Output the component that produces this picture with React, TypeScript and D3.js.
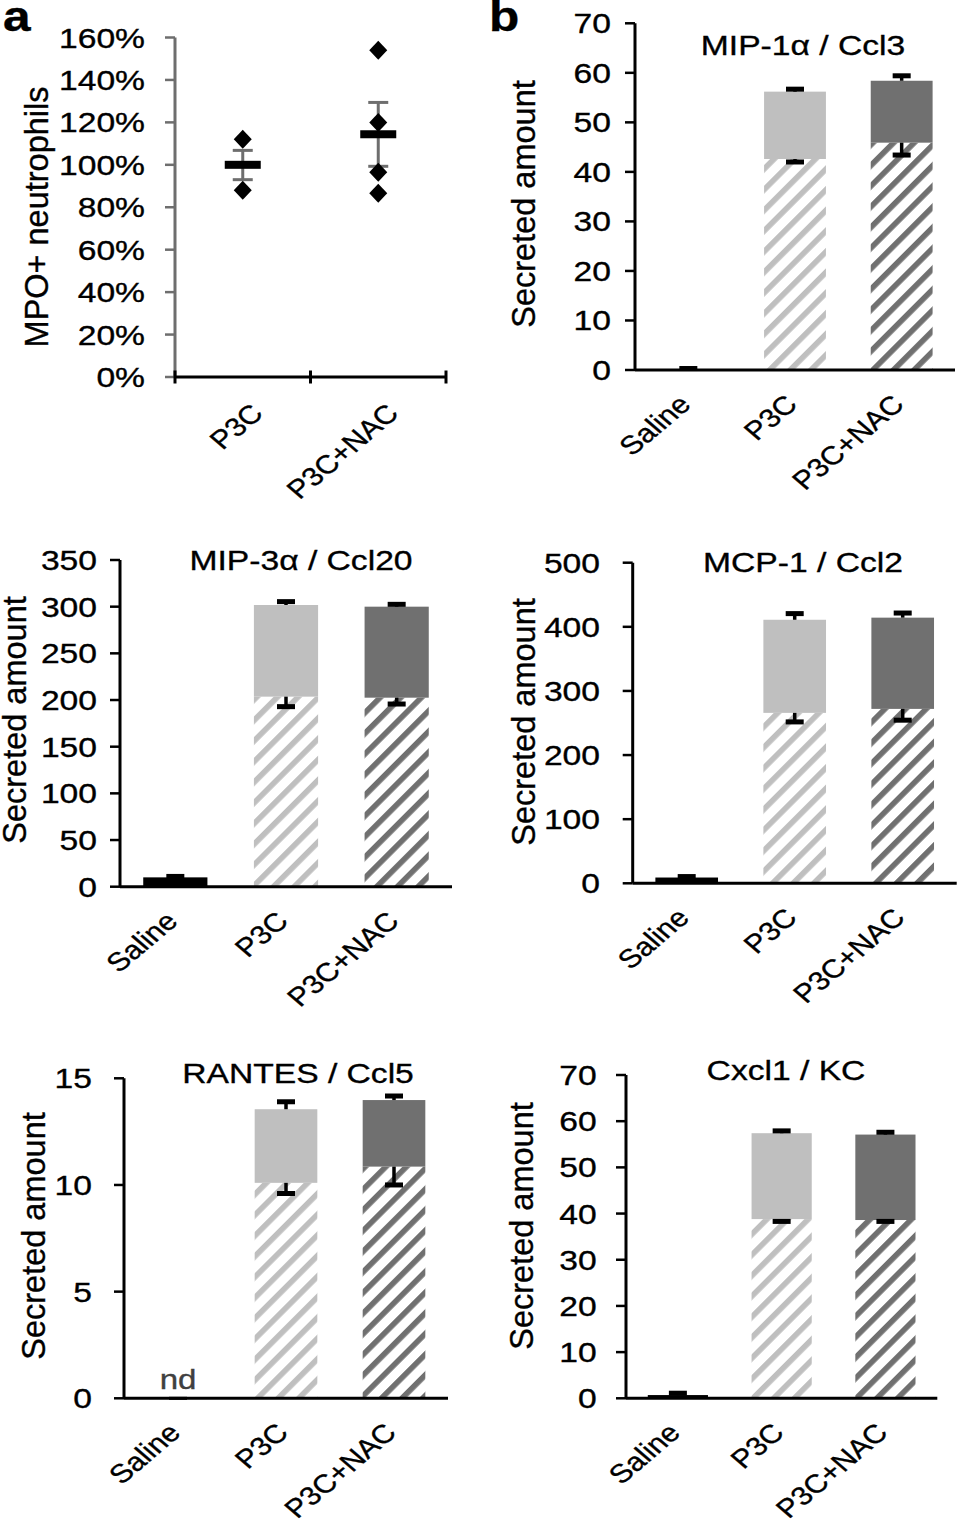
import React from "react";
import * as d3 from "d3";

const W = 957;
const H = 1522;
const SX = 1.18;
const FONT = "'Liberation Sans', Arial, Helvetica, sans-serif";

// ---------- Panel a data ----------
const groupsA = ["P3C", "P3C+NAC"];
const dotsP3C = [112, 88];
const dotsNAC = [154, 120, 96.5, 86.6];
const meanA = [100, 114.4];
const semLowA = [93, 99.3];
const semHighA = [106.8, 129.4];
const ticksA = [0, 20, 40, 60, 80, 100, 120, 140, 160];

// ---------- Panel b data ----------
const categoriesB = ["Saline", "P3C", "P3C+NAC"];

const mip1Base = [0.2, 42.6, 45.9];
const mip1Top = [0.2, 56.2, 58.4];
const mip1ErrLow = [0.2, 42.0, 43.4];
const mip1ErrHigh = [0.3, 56.7, 59.4];
const mip1Ticks = [0, 10, 20, 30, 40, 50, 60, 70];

const mip3Base = [10, 203.6, 202.5];
const mip3Top = [10, 301.8, 300];
const mip3ErrLow = [10, 192.9, 195.7];
const mip3ErrHigh = [11, 305.4, 302.5];
const mip3Ticks = [0, 50, 100, 150, 200, 250, 300, 350];

const mcp1Base = [9, 265.8, 272];
const mcp1Top = [9, 411, 414.3];
const mcp1ErrLow = [9, 251.7, 254.4];
const mcp1ErrHigh = [10.5, 420.6, 421.5];
const mcp1Ticks = [0, 100, 200, 300, 400, 500];

const rantesBase = [0, 10.1, 10.86];
const rantesTop = [0, 13.55, 13.98];
const rantesErrLow = [0, 9.6, 10.0];
const rantesErrHigh = [0, 13.9, 14.17];
const rantesTicks = [0, 5, 10, 15];

const cxclBase = [0.7, 38.8, 38.6];
const cxclTop = [0.7, 57.4, 57.1];
const cxclErrLow = [0.7, 38.3, 38.3];
const cxclErrHigh = [1.1, 57.9, 57.6];
const cxclTicks = [0, 10, 20, 30, 40, 50, 60, 70];

const LIGHT = "#bfbfbf";
const DARK = "#707070";

function Txt({ x, y, size, anchor = "start", rot = 0, sx = SX, weight = "normal", fill = "#000", children }: any) {
  return (
    <text
      transform={`translate(${x},${y}) scale(${sx},1)${rot ? ` rotate(${rot})` : ""}`}
      fontSize={size}
      textAnchor={anchor}
      fontWeight={weight}
      fill={fill}
      stroke={fill}
      strokeWidth={0.35}
      fontFamily={FONT}
    >
      {children}
    </text>
  );
}

function PanelA() {
  const x0 = 175, x1 = 446, y0 = 377, yTop = 37.5;
  const y = d3.scaleLinear().domain([0, 160]).range([y0, yTop]);
  const x = d3.scaleBand().domain(groupsA).range([x0, x1]);
  const dots = [dotsP3C, dotsNAC];
  const axisGray = "#6e6e6e";
  const step = x.step();
  return (
    <g>
      <line x1={x0} x2={x0} y1={yTop} y2={y0} stroke={axisGray} strokeWidth={3} />
      {ticksA.map((t) => (
        <g key={t}>
          <line x1={x0 - 10} x2={x0} y1={y(t)} y2={y(t)} stroke={axisGray} strokeWidth={2.5} />
          <Txt x={145} y={y(t) + 10} size={28.5} anchor="end">{`${t}%`}</Txt>
        </g>
      ))}
      <line x1={x0} x2={x1} y1={y0} y2={y0} stroke="#000" strokeWidth={3} />
      {[0, 1, 2].map((i) => (
        <line key={i} x1={x0 + i * step} x2={x0 + i * step} y1={y0 - 6.5} y2={y0 + 6.5} stroke="#000" strokeWidth={3} />
      ))}
      {groupsA.map((g, i) => {
        const cx = (x(g) as number) + x.bandwidth() / 2;
        return (
          <g key={g}>
            <line x1={cx} x2={cx} y1={y(semHighA[i])} y2={y(semLowA[i])} stroke={axisGray} strokeWidth={3} />
            <line x1={cx - 10} x2={cx + 10} y1={y(semHighA[i])} y2={y(semHighA[i])} stroke={axisGray} strokeWidth={3} />
            <line x1={cx - 10} x2={cx + 10} y1={y(semLowA[i])} y2={y(semLowA[i])} stroke={axisGray} strokeWidth={3} />
            {dots[i].map((v, j) => (
              <path key={j} d="M0,-9.5L9,0L0,9.5L-9,0Z" transform={`translate(${cx},${y(v)})`} fill="#000" />
            ))}
            <rect x={cx - 18} y={y(meanA[i]) - 4} width={36} height={8} fill="#000" />
            <Txt x={cx + 22} y={y0 + 38} size={26} anchor="end" rot={-45}>{g}</Txt>
          </g>
        );
      })}
      <Txt x={48} y={217} size={32.5} anchor="middle" rot={-90} sx={1}>MPO+ neutrophils</Txt>
    </g>
  );
}

function PanelB({ title, titleX, titleY, base, top, errLow, errHigh, ticks, x0, x1, y0, yTop, labelRight, yLabX, yLabY, nd }: any) {
  const max = ticks[ticks.length - 1];
  const y = d3.scaleLinear().domain([0, max]).range([y0, yTop]);
  const x = d3.scaleBand().domain(categoriesB).range([x0, x1]).paddingInner(0.42).paddingOuter(0.21);
  const bw = x.bandwidth();
  const fills = ["#000", LIGHT, DARK];
  const hatches = ["#000", "url(#hatchLight)", "url(#hatchDark)"];
  const cap = (cx: number, v: number, k: string) => (
    <rect key={k} x={cx - 9} y={y(v) - 2.5} width={18} height={5} fill="#000" />
  );
  return (
    <g>
      {categoriesB.map((c, i) => {
        const bx = x(c) as number;
        if (i === 0) {
          return <rect key={c} x={bx} y={y(base[i])} width={bw} height={y0 - y(base[i])} fill="#000" />;
        }
        return (
          <g key={c}>
            <rect x={bx} y={y(base[i])} width={bw} height={y0 - y(base[i])} fill={hatches[i]} />
            <rect x={bx} y={y(top[i])} width={bw} height={y(base[i]) - y(top[i])} fill={fills[i]} />
          </g>
        );
      })}
      <line x1={x0} x2={x0} y1={yTop} y2={y0} stroke="#000" strokeWidth={3} />
      <line x1={x0} x2={x1} y1={y0} y2={y0} stroke="#000" strokeWidth={3} />
      {ticks.map((t: number) => (
        <g key={t}>
          <line x1={x0 - 10} x2={x0} y1={y(t)} y2={y(t)} stroke="#000" strokeWidth={2.5} />
          <Txt x={labelRight} y={y(t) + 10} size={28.5} anchor="end">{String(t)}</Txt>
        </g>
      ))}
      {categoriesB.map((c, i) => {
        const cx = (x(c) as number) + bw / 2;
        const els: any[] = [];
        if (i === 0) {
          if (!nd) {
            els.push(<line key="s" x1={cx} x2={cx} y1={y(base[i])} y2={y(errHigh[i])} stroke="#000" strokeWidth={3.5} />);
            els.push(cap(cx, errHigh[i], "c"));
          } else {
            els.push(<rect key="nd0" x={cx - 9} y={y0 - 1.5} width={18} height={3} fill="#000" />);
          }
        } else {
          els.push(<line key="u" x1={cx} x2={cx} y1={y(top[i])} y2={y(errHigh[i])} stroke="#000" strokeWidth={3.5} />);
          els.push(cap(cx, errHigh[i], "uc"));
          els.push(<line key="l" x1={cx} x2={cx} y1={y(base[i])} y2={y(errLow[i])} stroke="#000" strokeWidth={3.5} />);
          els.push(cap(cx, errLow[i], "lc"));
        }
        return (
          <g key={c}>
            {els}
            <Txt x={cx + 4} y={y0 + 36} size={26} anchor="end" rot={-45}>{c}</Txt>
          </g>
        );
      })}
      {nd ? (
        <Txt x={(x("Saline") as number) + bw / 2} y={y0 - 9} size={28} anchor="middle" fill="#404040">nd</Txt>
      ) : null}
      <Txt x={titleX} y={titleY} size={28.5} anchor="middle">{title}</Txt>
      <Txt x={yLabX} y={yLabY} size={32.5} anchor="middle" rot={-90} sx={1}>Secreted amount</Txt>
    </g>
  );
}

export default function App() {
  return (
    <svg width={W} height={H} viewBox={`0 0 ${W} ${H}`} style={{ position: "absolute", left: 0, top: 0, background: "#fff" }}>
      <defs>
        <pattern id="hatchLight" patternUnits="userSpaceOnUse" width={14.6} height={14.6} patternTransform="rotate(45)">
          <rect x={0} y={0} width={5.6} height={14.6} fill={LIGHT} />
        </pattern>
        <pattern id="hatchDark" patternUnits="userSpaceOnUse" width={14.6} height={14.6} patternTransform="rotate(45)">
          <rect x={0} y={0} width={5.6} height={14.6} fill={DARK} />
        </pattern>
      </defs>
      <rect x={0} y={0} width={W} height={H} fill="#fff" />
      <Txt x={3} y={31} size={42} weight="bold">a</Txt>
      <Txt x={489} y={31} size={42} weight="bold">b</Txt>
      <PanelA />
      <PanelB title="MIP-1α / Ccl3" titleX={803} titleY={55} base={mip1Base} top={mip1Top} errLow={mip1ErrLow} errHigh={mip1ErrHigh}
        ticks={mip1Ticks} x0={635} x1={955} y0={370} yTop={23.3} labelRight={611} yLabX={535} yLabY={204} />
      <PanelB title="MIP-3α / Ccl20" titleX={301} titleY={570} base={mip3Base} top={mip3Top} errLow={mip3ErrLow} errHigh={mip3ErrHigh}
        ticks={mip3Ticks} x0={120} x1={452} y0={886.7} yTop={560} labelRight={97} yLabX={26} yLabY={720} />
      <PanelB title="MCP-1 / Ccl2" titleX={803} titleY={572} base={mcp1Base} top={mcp1Top} errLow={mcp1ErrLow} errHigh={mcp1ErrHigh}
        ticks={mcp1Ticks} x0={632.7} x1={956.7} y0={883.3} yTop={562.7} labelRight={600} yLabX={535} yLabY={722} />
      <PanelB title="RANTES / Ccl5" titleX={298} titleY={1083} base={rantesBase} top={rantesTop} errLow={rantesErrLow} errHigh={rantesErrHigh}
        ticks={rantesTicks} x0={124} x1={448} y0={1398.3} yTop={1078.3} labelRight={92} yLabX={45} yLabY={1236} nd={true} />
      <PanelB title="Cxcl1 / KC" titleX={786} titleY={1080} base={cxclBase} top={cxclTop} errLow={cxclErrLow} errHigh={cxclErrHigh}
        ticks={cxclTicks} x0={626} x1={937.3} y0={1398.3} yTop={1075} labelRight={596.7} yLabX={533} yLabY={1226} />
    </svg>
  );
}
